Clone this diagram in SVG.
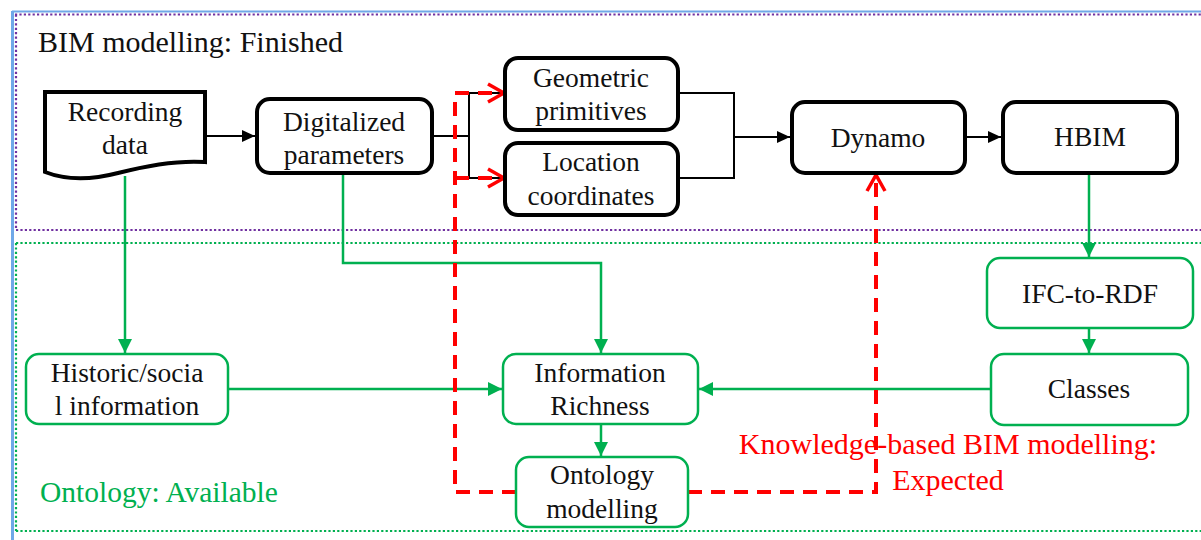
<svg xmlns="http://www.w3.org/2000/svg" width="1201" height="540" viewBox="0 0 1201 540">
<defs>
<style>
text{font-family:"Liberation Serif","Times New Roman",serif;}
.t{font-size:27.5px;fill:#111;text-anchor:middle;}
.bn{fill:#fff;stroke:#000;stroke-width:4;}
.gn{fill:#fff;stroke:#00b050;stroke-width:2.5;}
.bc{fill:none;stroke:#000;stroke-width:2;}
.gc{fill:none;stroke:#00b050;stroke-width:2.5;}
.rc{fill:none;stroke:#ff0000;stroke-width:4;stroke-dasharray:14 9;}
.purp{fill:none;stroke:#7030a0;stroke-width:2.2;stroke-dasharray:2.2 2.2;}
.grn{fill:none;stroke:#00b050;stroke-width:2.2;stroke-dasharray:2.2 2.2;}
</style>
<marker id="ab" markerUnits="userSpaceOnUse" markerWidth="14" markerHeight="14" refX="13" refY="7" orient="auto"><path d="M0,1 L13,7 L0,13 Z" fill="#000"/></marker>
<marker id="ag" markerUnits="userSpaceOnUse" markerWidth="16" markerHeight="16" refX="14" refY="8" orient="auto"><path d="M0,1 L14,8 L0,15 Z" fill="#00b050"/></marker>
<marker id="ar" markerUnits="userSpaceOnUse" markerWidth="22" markerHeight="22" refX="19" refY="11" orient="auto"><path d="M3,2 L19,11 L3,20" fill="none" stroke="#ff0000" stroke-width="3.5"/></marker>
</defs>

<g id="frames">
<line x1="12.5" y1="11" x2="12.5" y2="540" stroke="#6fa8e8" stroke-width="3"/>
<line x1="12" y1="11.5" x2="1201" y2="11.5" stroke="#6fa8e8" stroke-width="2"/>
<path class="purp" d="M15,14.5 H1201 M16,14.5 V230 M16,230 H1201"/>
<path class="grn" d="M16,243 H1201 M16,243 V531 M16,531 H1201"/>
</g>

<text x="38" y="52" style="font-size:30px;fill:#111">BIM modelling: Finished</text>
<text x="40" y="502" style="font-size:29.5px;fill:#00b050">Ontology: Available</text>
<text x="948" y="454" style="font-size:30px;fill:#ff0000;text-anchor:middle">Knowledge-based BIM modelling:</text>
<text x="948" y="490" style="font-size:30px;fill:#ff0000;text-anchor:middle">Expected</text>

<g id="connectors">
<path class="bc" d="M205,136 H255" marker-end="url(#ab)"/>
<path class="bc" d="M432,136 H469 M469,93 V178 M469,93 H505 M469,178 H505"/>
<path class="bc" d="M678,93 H734 V178 H678"/>
<path class="bc" d="M734,137 H790" marker-end="url(#ab)"/>
<path class="bc" d="M965,137 H1001" marker-end="url(#ab)"/>
<path class="gc" d="M125,176 V353" marker-end="url(#ag)"/>
<path class="gc" d="M343,173 V263 H601 V353" marker-end="url(#ag)"/>
<path class="gc" d="M228,389 H502" marker-end="url(#ag)"/>
<path class="gc" d="M991,389 H699" marker-end="url(#ag)"/>
<path class="gc" d="M601,424 V456" marker-end="url(#ag)"/>
<path class="gc" d="M1089,173 V257" marker-end="url(#ag)"/>
<path class="gc" d="M1089,328 V353" marker-end="url(#ag)"/>
<path class="rc" d="M516,492 H455 V93 H504" marker-end="url(#ar)"/>
<path class="rc" d="M455,178 H504" marker-end="url(#ar)"/>
<path class="rc" d="M688,492 H876 V175" marker-end="url(#ar)"/>
</g>

<g id="recording">
<path class="bn" d="M45,92 H205 V162 C175,160 145,166 118,173 C95,179 68,181 45,172 Z"/>
<text class="t" x="125" y="121">Recording</text>
<text class="t" x="125" y="154">data</text>
</g>
<g id="digitalized">
<rect class="bn" x="257" y="99" width="175" height="74" rx="13"/>
<text class="t" x="344" y="131">Digitalized</text>
<text class="t" x="344" y="164">parameters</text>
</g>
<g id="geometric">
<rect class="bn" x="505" y="58" width="173" height="72" rx="13"/>
<text class="t" x="591" y="87">Geometric</text>
<text class="t" x="591" y="120">primitives</text>
</g>
<g id="location">
<rect class="bn" x="505" y="143" width="173" height="72" rx="13"/>
<text class="t" x="591" y="171">Location</text>
<text class="t" x="591" y="205">coordinates</text>
</g>
<g id="dynamo">
<rect class="bn" x="792" y="102" width="173" height="71" rx="13"/>
<text class="t" x="878" y="147">Dynamo</text>
</g>
<g id="hbim">
<rect class="bn" x="1003" y="102" width="174" height="71" rx="13"/>
<text class="t" x="1090" y="146">HBIM</text>
</g>
<g id="ifc">
<rect class="gn" x="987" y="258" width="206" height="70" rx="13"/>
<text class="t" x="1090" y="303">IFC-to-RDF</text>
</g>
<g id="classes">
<rect class="gn" x="991" y="354" width="197" height="71" rx="13"/>
<text class="t" x="1089" y="398">Classes</text>
</g>
<g id="historic">
<rect class="gn" x="26" y="354" width="202" height="70" rx="13"/>
<text class="t" x="127" y="382">Historic/socia</text>
<text class="t" x="127" y="415">l information</text>
</g>
<g id="information">
<rect class="gn" x="503" y="354" width="195" height="70" rx="13"/>
<text class="t" x="600" y="382">Information</text>
<text class="t" x="600" y="415">Richness</text>
</g>
<g id="ontology">
<rect class="gn" x="516" y="457" width="172" height="70" rx="13"/>
<text class="t" x="602" y="484">Ontology</text>
<text class="t" x="602" y="518">modelling</text>
</g>
</svg>
